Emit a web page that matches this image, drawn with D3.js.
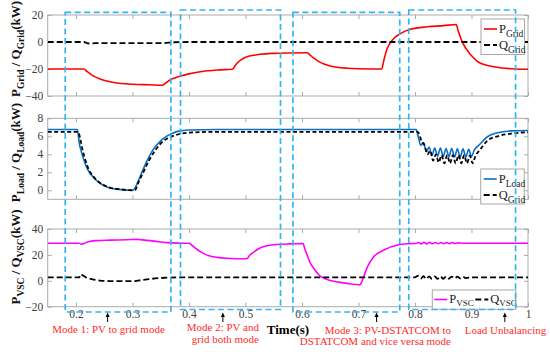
<!DOCTYPE html>
<html>
<head>
<meta charset="utf-8">
<script src="https://cdn.jsdelivr.net/npm/d3@7"></script>
<style>
  body { margin: 0; background: #fff; }
  svg { display: block; font-family: "Liberation Serif", "Times New Roman", serif; }
</style>
</head>
<body>
<svg id="chart" width="550" height="352"></svg>
<script>
// Values, time in seconds, power in kW
const xTicks = [0.2, 0.3, 0.4, 0.5, 0.6, 0.7, 0.8, 0.9, 1];

const pGrid = [[0.15,-20],[0.214,-20],[0.22,-22],[0.228,-24.5],[0.237,-26.4],[0.248,-28.2],[0.26,-29.4],
  [0.28,-30.7],[0.30,-31.3],[0.33,-31.7],[0.353,-32],[0.36,-30],[0.367,-28],[0.375,-26.6],[0.385,-25.2],
  [0.40,-23.6],[0.42,-22],[0.45,-20.7],[0.477,-20.2],[0.481,-18],[0.485,-15.8],[0.493,-13],[0.503,-10.9],
  [0.515,-9.8],[0.526,-9.1],[0.55,-8.4],[0.58,-8.1],[0.609,-8],[0.614,-9.5],[0.621,-12],[0.63,-14.5],
  [0.639,-16.3],[0.65,-17.8],[0.662,-18.7],[0.68,-19.4],[0.70,-19.8],[0.741,-20],[0.745,-13.3],[0.751,-4.7],
  [0.76,1.5],[0.775,6.4],[0.792,9.4],[0.822,11.3],[0.851,12.1],[0.873,13],[0.876,8.9],[0.884,-0.3],
  [0.899,-9.6],[0.916,-15.8],[0.94,-18.3],[0.97,-19.8],[1.0,-20.2]];
const qGrid = [[0.15,0],[0.214,0],[0.222,-1.1],[0.235,-0.9],[0.35,-0.9],[0.375,-0.2],[0.40,0],[1.0,0]];

const pLoad = [[0.15,6.75],[0.2025,6.75],[0.206,5.2],[0.21,4.2],[0.215,3.2],[0.22,2.4],[0.23,1.5],[0.24,0.9],
  [0.25,0.5],[0.26,0.25],[0.28,0.08],[0.301,0],[0.304,0.2],[0.31,1.0],[0.32,2.5],[0.33,3.8],[0.34,4.8],
  [0.35,5.5],[0.36,6.0],[0.37,6.3],[0.38,6.55],[0.40,6.7],[0.45,6.75],[0.802,6.75],[0.806,5.9],[0.810,5.0],
  [0.815,5.3],[0.820,4.3],[0.825,4.8],[0.830,3.9],[0.835,4.7],[0.840,3.8],[0.845,4.7],[0.850,3.75],
  [0.855,4.65],[0.860,3.75],[0.865,4.65],[0.870,3.7],[0.875,4.6],[0.880,3.7],[0.885,4.6],[0.890,3.7],
  [0.895,4.55],[0.900,3.75],[0.905,4.5],[0.913,5.0],[0.928,5.95],[0.946,6.4],[0.97,6.6],[1.0,6.65]];
const qLoad = [[0.15,6.5],[0.204,6.5],[0.208,5.6],[0.212,4.4],[0.217,3.3],[0.222,2.4],[0.23,1.6],[0.24,0.95],
  [0.25,0.55],[0.26,0.3],[0.28,0.1],[0.30,0],[0.305,0.05],[0.31,0.8],[0.32,2.1],[0.33,3.4],[0.34,4.4],
  [0.35,5.2],[0.36,5.7],[0.37,6.0],[0.38,6.2],[0.40,6.4],[0.45,6.5],[0.805,6.5],[0.812,5.4],[0.817,5.0],
  [0.822,4.0],[0.827,4.4],[0.832,3.3],[0.837,4.0],[0.842,3.1],[0.847,3.9],[0.852,3.0],[0.857,3.9],
  [0.862,3.0],[0.867,3.9],[0.872,3.0],[0.877,3.9],[0.882,3.0],[0.887,3.9],[0.892,3.0],[0.897,3.85],
  [0.902,3.0],[0.907,3.8],[0.915,4.5],[0.928,5.5],[0.946,6.0],[0.97,6.3],[1.0,6.45]];

const pVsc = [[0.15,29],[0.206,29],[0.209,28.2],[0.214,28.8],[0.222,30.2],[0.235,31],[0.26,31.4],[0.29,31.7],
  [0.308,32],[0.318,31.6],[0.331,31],[0.345,30.2],[0.361,29.5],[0.38,29.1],[0.40,29],[0.405,27.5],
  [0.412,25],[0.42,22.5],[0.428,20.6],[0.437,19.2],[0.45,18.1],[0.467,17.4],[0.50,17],[0.503,17.2],
  [0.507,19.5],[0.514,22],[0.524,25],[0.538,27.1],[0.555,28],[0.58,28.5],[0.602,28.8],[0.605,24.5],
  [0.61,19],[0.615,13.5],[0.621,9.5],[0.63,4.5],[0.64,1.8],[0.65,0.2],[0.665,-1],[0.68,-2],[0.703,-3],
  [0.705,-1.5],[0.709,3],[0.716,10.9],[0.727,18.6],[0.745,23.8],[0.769,27.6],[0.79,28.7],[0.803,29],
  [0.806,29.6],[0.811,28.5],[0.816,29.7],[0.821,28.5],[0.826,29.7],[0.831,28.6],[0.836,29.6],[0.841,28.6],
  [0.846,29.6],[0.851,28.6],[0.856,29.5],[0.861,28.7],[0.866,29.5],[0.871,28.8],[0.876,29.3],[0.885,29],
  [1.0,29]];
const qVsc = [[0.15,2.7],[0.206,2.7],[0.208,5],[0.212,4.2],[0.218,2.6],[0.226,1.4],[0.235,0.6],[0.245,0],
  [0.27,-0.3],[0.30,-0.3],[0.31,0.2],[0.331,1.4],[0.345,2],[0.361,2.4],[0.38,2.7],[0.80,2.7],[0.805,3.8],
  [0.81,1.6],[0.815,3.5],[0.82,1.5],[0.825,3.4],[0.83,1.5],[0.835,3.4],[0.84,1.6],[0.845,3.4],[0.85,1.6],
  [0.855,3.3],[0.86,1.7],[0.865,3.3],[0.87,1.8],[0.875,3.2],[0.88,1.9],[0.885,3.1],[0.89,2.1],[0.90,2.7],
  [1.0,2.7]];

// mode boxes: [start, end] in seconds, arrow time, label lines
const modes = [
  { t0: 0.181, t1: 0.368, arrow: 0.256, tall: false, lines: ["Mode 1: PV to grid mode"] },
  { t0: 0.385, t1: 0.562, arrow: 0.460, tall: true,  lines: ["Mode 2: PV and", "grid both mode"] },
  { t0: 0.584, t1: 0.773, arrow: 0.732, tall: false, lines: ["Mode 3: PV-DSTATCOM to", "DSTATCOM and vice versa mode"] },
  { t0: 0.789, t1: 0.978, arrow: 0.959, tall: true,  lines: ["Load Unbalancing"] }
];

const svg = d3.select("#chart");
const left = 47.7, right = 528;
const frameCol = "#ababab", tickCol = "#404040";

const x = d3.scaleLinear().domain([0.15, 1]).range([left, right]);

const panels = [
  { top: 15, bottom: 96, domain: [-40, 20], ticks: [-40, -20, 0, 20],
    label: ["P", "Grid", " / Q", "Grid", "(kW)"], labelY: 49,
    series: [{ data: pGrid, color: "#ff0000", dash: null }, { data: qGrid, color: "#000", dash: "6,3" }],
    legend: { x: 481, y: 19, w: 43.5, h: 35.5, vertical: true,
      items: [{ color: "#ff0000", dash: null, main: "P", sub: "Grid" }, { color: "#000", dash: "6,3", main: "Q", sub: "Grid" }] } },
  { top: 118.3, bottom: 199.3, domain: [-1, 8], ticks: [0, 2, 4, 6, 8],
    label: ["P", "Load", " / Q", "Load", "(kW)"], labelY: 152.5,
    series: [{ data: pLoad, color: "#0a6fc2", dash: null }, { data: qLoad, color: "#000", dash: "4,2.5" }],
    legend: { x: 480.7, y: 169, w: 43.5, h: 35, vertical: true,
      items: [{ color: "#0a6fc2", dash: null, main: "P", sub: "Load" }, { color: "#000", dash: "6,3", main: "Q", sub: "Grid" }] } },
  { top: 229, bottom: 306.7, domain: [-20, 40], ticks: [-20, 0, 20, 40],
    label: ["P", "VSC", " / Q", "VSC", "(kW)"], labelY: 257,
    series: [{ data: pVsc, color: "#ff00ff", dash: null }, { data: qVsc, color: "#000", dash: "6,3" }],
    legend: { x: 432.3, y: 290, w: 83.5, h: 19.3, vertical: false,
      items: [{ color: "#ff00ff", dash: null, main: "P", sub: "VSC" }, { color: "#000", dash: "6,3", main: "Q", sub: "VSC" }] } }
];

panels.forEach(function(p, pi) {
  const y = d3.scaleLinear().domain(p.domain).range([p.bottom, p.top]);
  const g = svg.append("g");

  g.append("rect")
    .attr("x", left).attr("y", p.top)
    .attr("width", right - left).attr("height", p.bottom - p.top)
    .attr("fill", "#fff").attr("stroke", frameCol).attr("stroke-width", 1);

  const clipId = "clip" + pi;
  g.append("clipPath").attr("id", clipId).append("rect")
    .attr("x", left).attr("y", p.top).attr("width", right - left).attr("height", p.bottom - p.top);

  // inward ticks on all four sides, labels only left (and bottom on last panel)
  const showX = pi === panels.length - 1;
  const axB = g.append("g").attr("transform", "translate(0," + p.bottom + ")")
    .call(d3.axisBottom(x).tickValues(xTicks).tickSizeInner(-4).tickSizeOuter(0).tickPadding(3)
      .tickFormat(showX ? d3.format("") : ""));
  const axT = g.append("g").attr("transform", "translate(0," + p.top + ")")
    .call(d3.axisTop(x).tickValues(xTicks).tickSizeInner(-4).tickSizeOuter(0).tickFormat(""));
  const axL = g.append("g").attr("transform", "translate(" + left + ",0)")
    .call(d3.axisLeft(y).tickValues(p.ticks).tickSizeInner(-4).tickSizeOuter(0).tickPadding(4.5));
  const axR = g.append("g").attr("transform", "translate(" + right + ",0)")
    .call(d3.axisRight(y).tickValues(p.ticks).tickSizeInner(-4).tickSizeOuter(0).tickFormat(""));
  [axB, axT, axL, axR].forEach(function(a) {
    a.select(".domain").remove();
    a.selectAll(".tick line").attr("stroke", frameCol);
    a.selectAll(".tick text").attr("fill", tickCol)
      .style("font-family", "Liberation Serif").style("font-size", "11.5px");
  });

  const line = d3.line()
    .x(function(d) { return x(d[0]); })
    .y(function(d) { return y(d[1]); })
    .curve(d3.curveMonotoneX);

  p.series.forEach(function(s) {
    g.append("path")
      .datum(s.data)
      .attr("clip-path", "url(#" + clipId + ")")
      .attr("d", line)
      .attr("fill", "none")
      .attr("stroke", s.color)
      .attr("stroke-width", s.dash ? 1.8 : 1.6)
      .attr("stroke-dasharray", s.dash);
  });

  // y axis title with subscripts
  const lbl = svg.append("text")
    .attr("transform", "translate(20," + p.labelY + ") rotate(-90)")
    .attr("text-anchor", "middle")
    .attr("font-weight", "bold")
    .attr("font-size", 13)
    .attr("fill", "#111");
  p.label.forEach(function(part, i) {
    const isSub = i === 1 || i === 3;
    const ts = lbl.append("tspan").text(part);
    if (isSub) ts.attr("font-size", 9.5).attr("dy", 4);
    else if (i > 0) ts.attr("dy", -4);
  });

  // legend
  const L = p.legend;
  const lg = svg.append("g").attr("class", "legend");
  lg.append("rect").attr("x", L.x).attr("y", L.y).attr("width", L.w).attr("height", L.h)
    .attr("fill", "#fff").attr("stroke", "#a8a8a8").attr("stroke-width", 1);
  L.items.forEach(function(it, i) {
    let lx, ly;
    if (L.vertical) { lx = L.x + 3; ly = L.y + 10 + i * 16; }
    else { lx = L.x + 2 + i * 41; ly = L.y + 9.5; }
    lg.append("line").attr("x1", lx).attr("x2", lx + 13).attr("y1", ly).attr("y2", ly)
      .attr("stroke", it.color).attr("stroke-width", it.dash ? 1.8 : 1.6)
      .attr("stroke-dasharray", it.dash);
    const t = lg.append("text").attr("x", lx + 15).attr("y", ly + (L.vertical ? 4 : 3))
      .attr("font-size", 12.5).attr("fill", "#222");
    t.append("tspan").text(it.main);
    t.append("tspan").text(it.sub).attr("font-size", L.vertical ? 9.5 : 9).attr("dy", L.vertical ? 4 : 3);
  });
});

// dashed mode boxes on top of everything
const boxCol = "#36b4f0";
modes.forEach(function(m) {
  const y0 = m.tall ? 10 : 12.3;
  const y1 = m.tall ? 309.5 : 312;
  svg.append("rect")
    .attr("x", x(m.t0)).attr("y", y0)
    .attr("width", x(m.t1) - x(m.t0)).attr("height", y1 - y0)
    .attr("fill", "none").attr("stroke", boxCol).attr("stroke-width", 1.7)
    .attr("stroke-dasharray", "6,3.5");

  // small up arrow
  const ax = x(m.arrow);
  svg.append("line").attr("x1", ax).attr("x2", ax).attr("y1", 322).attr("y2", 315)
    .attr("stroke", "#000").attr("stroke-width", 1);
  svg.append("path")
    .attr("d", "M" + (ax - 2) + ",317 L" + ax + ",312.5 L" + (ax + 2) + ",317 Z")
    .attr("fill", "#000");
});

// mode captions
const red = "#ff2b2b";
function caption(lines, cx, ys, anchor) {
  lines.forEach(function(s, i) {
    svg.append("text").attr("x", cx).attr("y", ys[i]).attr("text-anchor", anchor)
      .attr("font-size", 11).attr("fill", red).text(s);
  });
}
caption(modes[0].lines, 108.5, [333], "middle");
caption(modes[1].lines, 259, [330.5, 342.5], "end");
caption(modes[2].lines, 451, [333.5, 345], "end");
caption(modes[3].lines, 505.5, [333.5], "middle");

svg.append("text").attr("x", 288).attr("y", 334).attr("text-anchor", "middle")
  .attr("font-size", 13).attr("font-weight", "bold").attr("fill", "#000").text("Time(s)");
</script>
</body>
</html>
